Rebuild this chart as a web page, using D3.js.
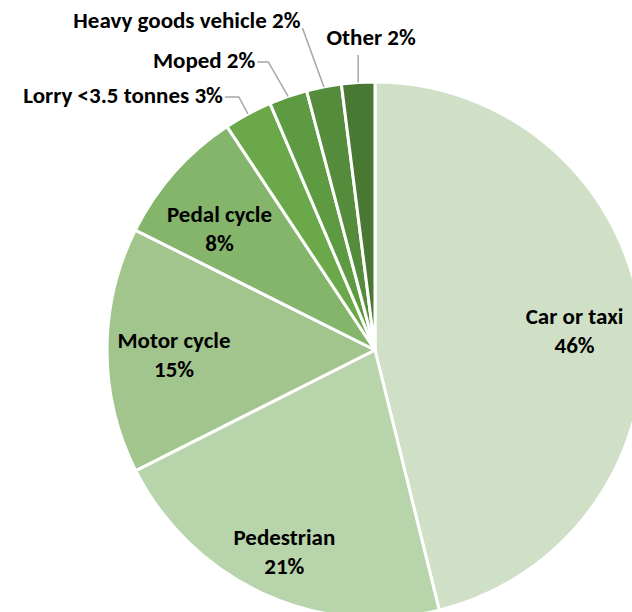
<!DOCTYPE html>
<html>
<head>
<meta charset="utf-8">
<script src="https://cdn.jsdelivr.net/npm/d3@7"></script>
<style>
  body { margin: 0; background: #fff; }
  svg text { font-family: Carlito, Lato, 'Open Sans', sans-serif; font-weight: bold; fill: #000; }
</style>
</head>
<body>
<svg></svg>
<script>
// data (percent of casualties)
let categories = ['Car or taxi', 'Pedestrian', 'Motor cycle', 'Pedal cycle', 'Lorry <3.5 tonnes', 'Moped', 'Heavy goods vehicle', 'Other']
let values = [46.1, 21.4, 14.8, 8.3, 2.9, 2.3, 2.1, 2.0]
let colors = ['#d0e0c7', '#b8d4ab', '#a2c58e', '#84b56b', '#6ba84a', '#5e9a42', '#558c3b', '#497832']

let width = 632
let height = 612
let cx = 375
let cy = 350
let radius = 268
let fontSize = 23

// inside label distance (fraction of radius) and small nudge
let insideK = { 0: 0.75, 1: 0.81, 2: 0.75, 3: 0.75 }
let insideNudge = { 3: [-5, 7] }
// outside labels: elbow y, elbow x nudge, gap to text
let outside = {
    4: { y: 97, nudge: 0, tail: 14 },
    5: { y: 62, nudge: -8, tail: 11 },
    6: { y: 28, nudge: -10, tail: 0 },
    7: { y: 55, nudge: 0, tail: 0 }
}

let svg = d3.select('svg')
svg.attr('width', width).attr('height', height)

let items = categories.map((c, i) => ({ name: c, value: values[i], color: colors[i] }))

let pie = d3.pie().sort(null).value(d => d.value)
let arcs = pie(items)

let arc = d3.arc().innerRadius(0).outerRadius(radius)

let g = svg.append('g').attr('transform', 'translate(' + cx + ',' + cy + ')')

g.selectAll('path')
 .data(arcs)
 .enter()
 .append('path')
 .attr('d', arc)
 .attr('fill', d => d.data.color)
 .attr('stroke', '#fff')
 .attr('stroke-width', 3)
 .attr('stroke-linejoin', 'round')

let pct = d => Math.round(d.data.value) + '%'
let midAngle = d => (d.startAngle + d.endAngle) / 2

// inside labels, two lines
arcs.forEach((d, i) => {
    if (insideK[i] === undefined) return
    let a = midAngle(d)
    let r = radius * insideK[i]
    let [nx, ny] = insideNudge[i] || [0, 0]
    let x = r * Math.sin(a) + nx
    let y = -r * Math.cos(a) + ny
    let t = g.append('text')
             .attr('text-anchor', 'middle')
             .style('font-size', fontSize + 'px')
    t.append('tspan').attr('x', x).attr('y', y - 2).text(d.data.name)
    t.append('tspan').attr('x', x).attr('y', y + 27).text(pct(d))
})

// outside labels with leader lines
let line = d3.line()
arcs.forEach((d, i) => {
    let o = outside[i]
    if (o === undefined) return
    let a = midAngle(d)
    let px = radius * Math.sin(a)
    let py = -radius * Math.cos(a)
    let ey = o.y - cy
    let label = d.data.name + ' ' + pct(d)
    if (i === 7) {
        g.append('path')
         .attr('d', line([[px, py], [px, ey]]))
         .attr('fill', 'none').attr('stroke', '#a6a6a6').attr('stroke-width', 1.5)
        g.append('text')
         .attr('x', px + 13).attr('y', ey - 10)
         .attr('text-anchor', 'middle')
         .style('font-size', fontSize + 'px')
         .text(label)
        return
    }
    let ex = -ey * Math.tan(a) + o.nudge
    let tx = ex - o.tail
    g.append('path')
     .attr('d', line([[px, py], [ex, ey], [tx, ey]]))
     .attr('fill', 'none').attr('stroke', '#a6a6a6').attr('stroke-width', 1.5)
    g.append('text')
     .attr('x', tx - 2).attr('y', ey + (i === 6 ? 0 : 6))
     .attr('text-anchor', 'end')
     .style('font-size', fontSize + 'px')
     .text(label)
})
</script>
</body>
</html>
